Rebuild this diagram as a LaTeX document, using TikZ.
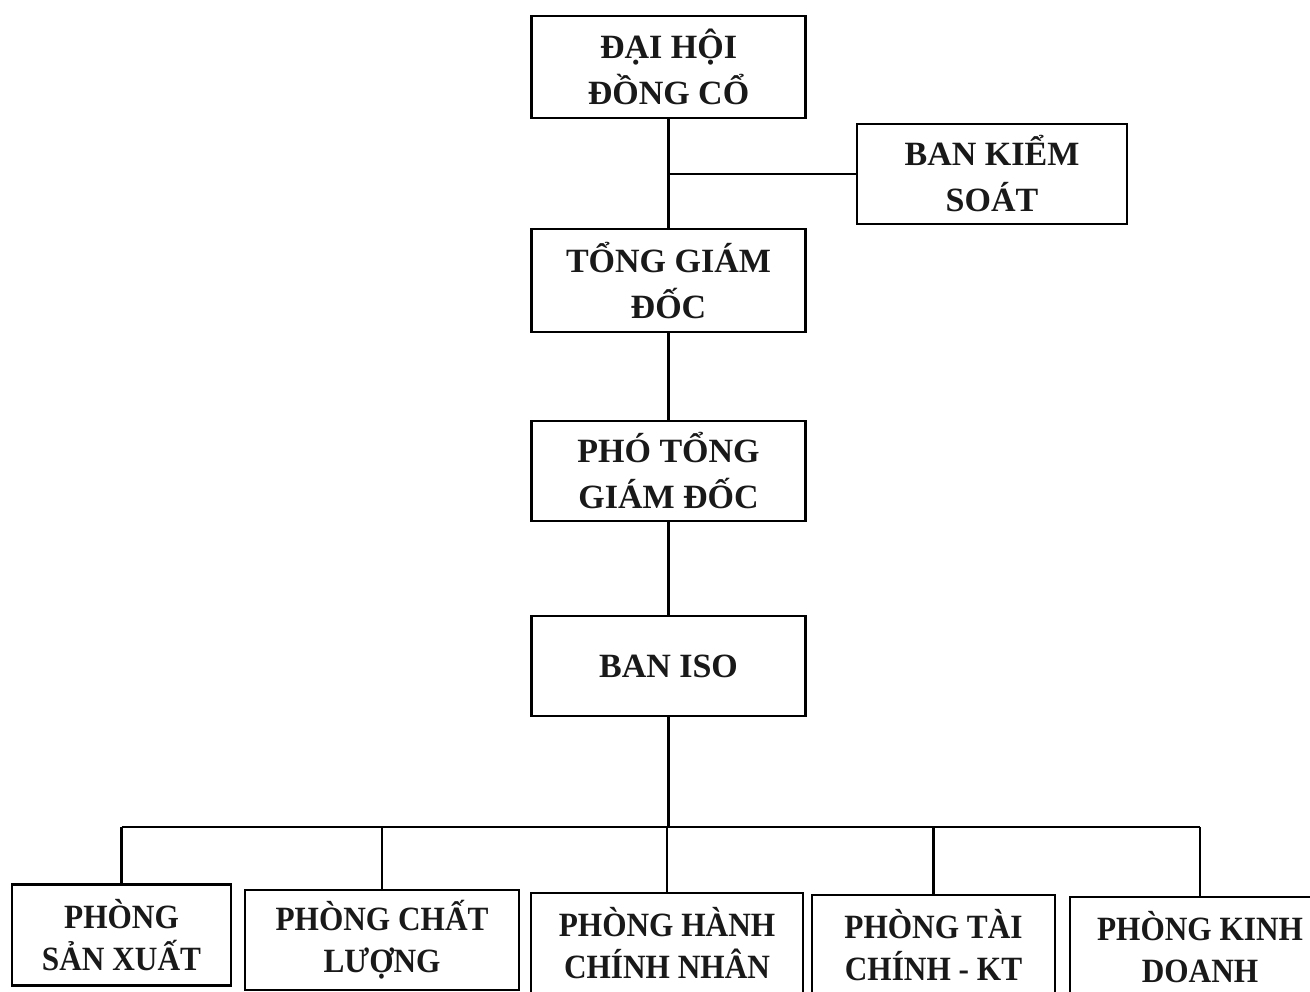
\documentclass[tikz,border=0pt]{standalone}
\usepackage{fontspec}
\setmainfont{Liberation Serif}
\newfontfamily\deptfont{Liberation Serif}[FakeStretch=0.92]
\begin{document}
\begin{tikzpicture}[x=0.5pt,y=-0.5pt,
  orgbox/.style={draw=black, line width=1.1pt, fill=white, inner sep=0pt,
    align=center, font=\bfseries\fontsize{17}{23}\selectfont, text=black!90},
  deptbox/.style={orgbox, minimum height=50pt, font=\deptfont\bfseries\fontsize{17}{21}\selectfont},
  link/.style={draw=black, line width=1.1pt}]
\useasboundingbox (0,0) rectangle (1310,991);
% top chain
\node[orgbox, minimum width=137pt, minimum height=51pt] (dhdc) at (668.5,67) {ĐẠI HỘI\\ĐỒNG CỔ};
\node[orgbox, minimum width=135pt, minimum height=50pt] (bks) at (992,174) {BAN KIỂM\\SOÁT};
\node[orgbox, minimum width=137pt, minimum height=51.5pt] (tgd) at (668.5,280.5) {TỔNG GIÁM\\ĐỐC};
\node[orgbox, minimum width=137pt, minimum height=50pt] (ptgd) at (668.5,471) {PHÓ TỔNG\\GIÁM ĐỐC};
\node[orgbox, minimum width=137pt, minimum height=50pt] (iso) at (668.5,666) {BAN ISO};
% departments
\node[deptbox, minimum width=109.5pt, minimum height=50.5pt] (p1) at (121.5,935) {PHÒNG\\SẢN XUẤT};
\node[deptbox, minimum width=137pt] (p2) at (382,940) {PHÒNG CHẤT\\LƯỢNG};
\node[deptbox, minimum width=136pt] (p3) at (667,943) {PHÒNG HÀNH\\CHÍNH NHÂN};
\node[deptbox, minimum width=121.5pt] (p4) at (933.5,945) {PHÒNG TÀI\\CHÍNH - KT};
\node[deptbox, minimum width=130pt] (p5) at (1200,947) {PHÒNG KINH\\DOANH};
% connectors
\draw[link] (dhdc.south) -- (tgd.north);
\draw[link] (bks.west) -- (bks.west -| dhdc.south);
\draw[link] (tgd.south) -- (ptgd.north);
\draw[link] (ptgd.south) -- (iso.north);
\coordinate (bus) at (668.5,827);
\draw[link] (iso.south) -- (bus);
\draw[link] (p1.north |- bus) -- (p5.north |- bus);
\foreach \p in {p1,p2,p3,p4,p5} {
  \draw[link] (\p.north) -- (\p.north |- bus);
}
\end{tikzpicture}
\end{document}
